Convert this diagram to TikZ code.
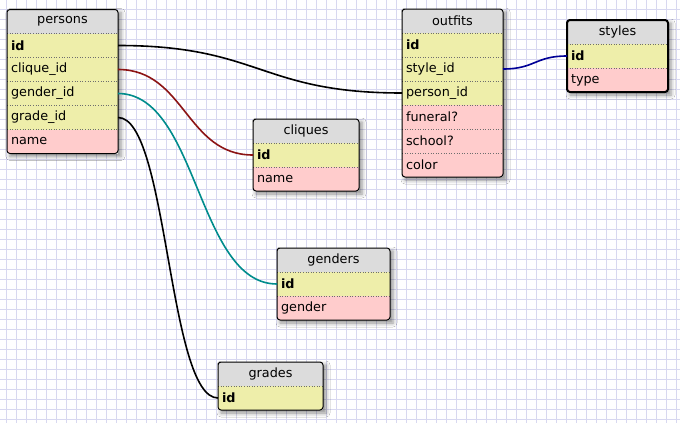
\documentclass[tikz,border=0pt]{standalone}
\usepackage{fontspec}
\setmainfont{DejaVu Sans}
\usetikzlibrary{shadows.blur}
\definecolor{gridc}{RGB}{216,216,240}
\definecolor{hdr}{RGB}{220,220,220}
\definecolor{yrow}{RGB}{238,238,170}
\definecolor{prow}{RGB}{255,204,204}
\definecolor{sepc}{RGB}{110,110,110}
\definecolor{redc}{RGB}{140,20,20}
\definecolor{tealc}{RGB}{0,140,140}
\definecolor{bluec}{RGB}{0,0,150}
\tikzset{
  gridline/.style={draw=gridc, line width=1pt},
  tabbox/.style={fill=white, inner sep=0pt, outer sep=0pt, anchor=north west,
    blur shadow={shadow xshift=3pt, shadow yshift=-3pt, shadow blur radius=4pt, shadow opacity=45}},
  cell/.style={inner xsep=4pt, inner ysep=0pt, outer sep=0pt, minimum height=24pt,
    anchor=north west, align=left, text=black},
  headcell/.style={cell, fill=hdr, align=center},
  kk/.style={fill=yrow, font=\fontsize{12.8pt}{15pt}\selectfont\bfseries},
  yy/.style={fill=yrow},
  pp/.style={fill=prow},
  sepline/.style={draw=sepc, dotted, line width=0.6pt},
  border/.style={draw=black, line width=1pt, rounded corners=3pt},
  conn/.style={line width=1.6pt}
}
% #1 name, #2 x, #3 y, #4 width, #5 title, #6 nrows, #7 rows
\newcommand\dbtable[7]{%
  \pgfmathsetmacro\tblh{24*(#6+1)}%
  \node[tabbox, minimum width=#4pt, minimum height=\tblh pt] (#1) at (#2,#3) {};
  \begin{scope}
    \clip[rounded corners=3pt] (#1.north west) rectangle (#1.south east);
    \node[headcell, text width=#4pt-8pt] (#1-0) at (#1.north west) {#5};
    \foreach \lab/\kind [count=\i] in {#7} {
      \node[cell, \kind, text width=#4pt-8pt] (#1-\i) at (#2,{#3+24*\i}) {\lab};
      \draw[sepline] (#1-\i.north west) -- (#1-\i.north east);
    }
  \end{scope}
  \draw[border] (#1.north west) rectangle (#1.south east);
}
\begin{document}
\begin{tikzpicture}[x=1pt,y=-1pt, every node/.style={font=\fontsize{12.8pt}{15pt}\selectfont}]
\useasboundingbox (0,0) rectangle (680,423);
\fill[white] (0,0) rectangle (680,423);
\foreach \x in {6,16,...,676} \draw[gridline] (\x,0) -- (\x,423);
\foreach \y in {0,1,...,41} \draw[gridline] (0,9.5+10*\y) -- (680,9.5+10*\y);

\dbtable{persons}{7}{9.5}{111}{persons}{5}{id/kk, clique\_id/yy, gender\_id/yy, grade\_id/yy, name/pp}
\dbtable{outfits}{402}{9}{101}{outfits}{6}{id/kk, style\_id/yy, person\_id/yy, funeral?/pp, school?/pp, color/pp}
\dbtable{styles}{567}{20}{101}{styles}{2}{id/kk, type/pp}
\draw[border, line width=2pt] (styles.north west) rectangle (styles.south east);
\dbtable{cliques}{253}{119}{106}{cliques}{2}{id/kk, name/pp}
\dbtable{genders}{277}{248}{113}{genders}{2}{id/kk, gender/pp}
\dbtable{grades}{218}{362}{105}{grades}{1}{id/kk}

\draw[conn, black] (persons-1.east) .. controls +(142,0) and +(-142,0) .. (outfits-3.west);
\draw[conn, redc] (persons-2.east) .. controls +(67,0) and +(-67,0) .. (cliques-1.west);
\draw[conn, tealc] (persons-3.east) .. controls +(80,0) and +(-80,0) .. (genders-1.west);
\draw[conn, black] (persons-4.east) .. controls +(50,0) and +(-50,0) .. (grades-1.west);
\draw[conn, bluec] (outfits-2.east) .. controls +(32,0) and +(-32,0) .. (styles-1.west);
\end{tikzpicture}
\end{document}
